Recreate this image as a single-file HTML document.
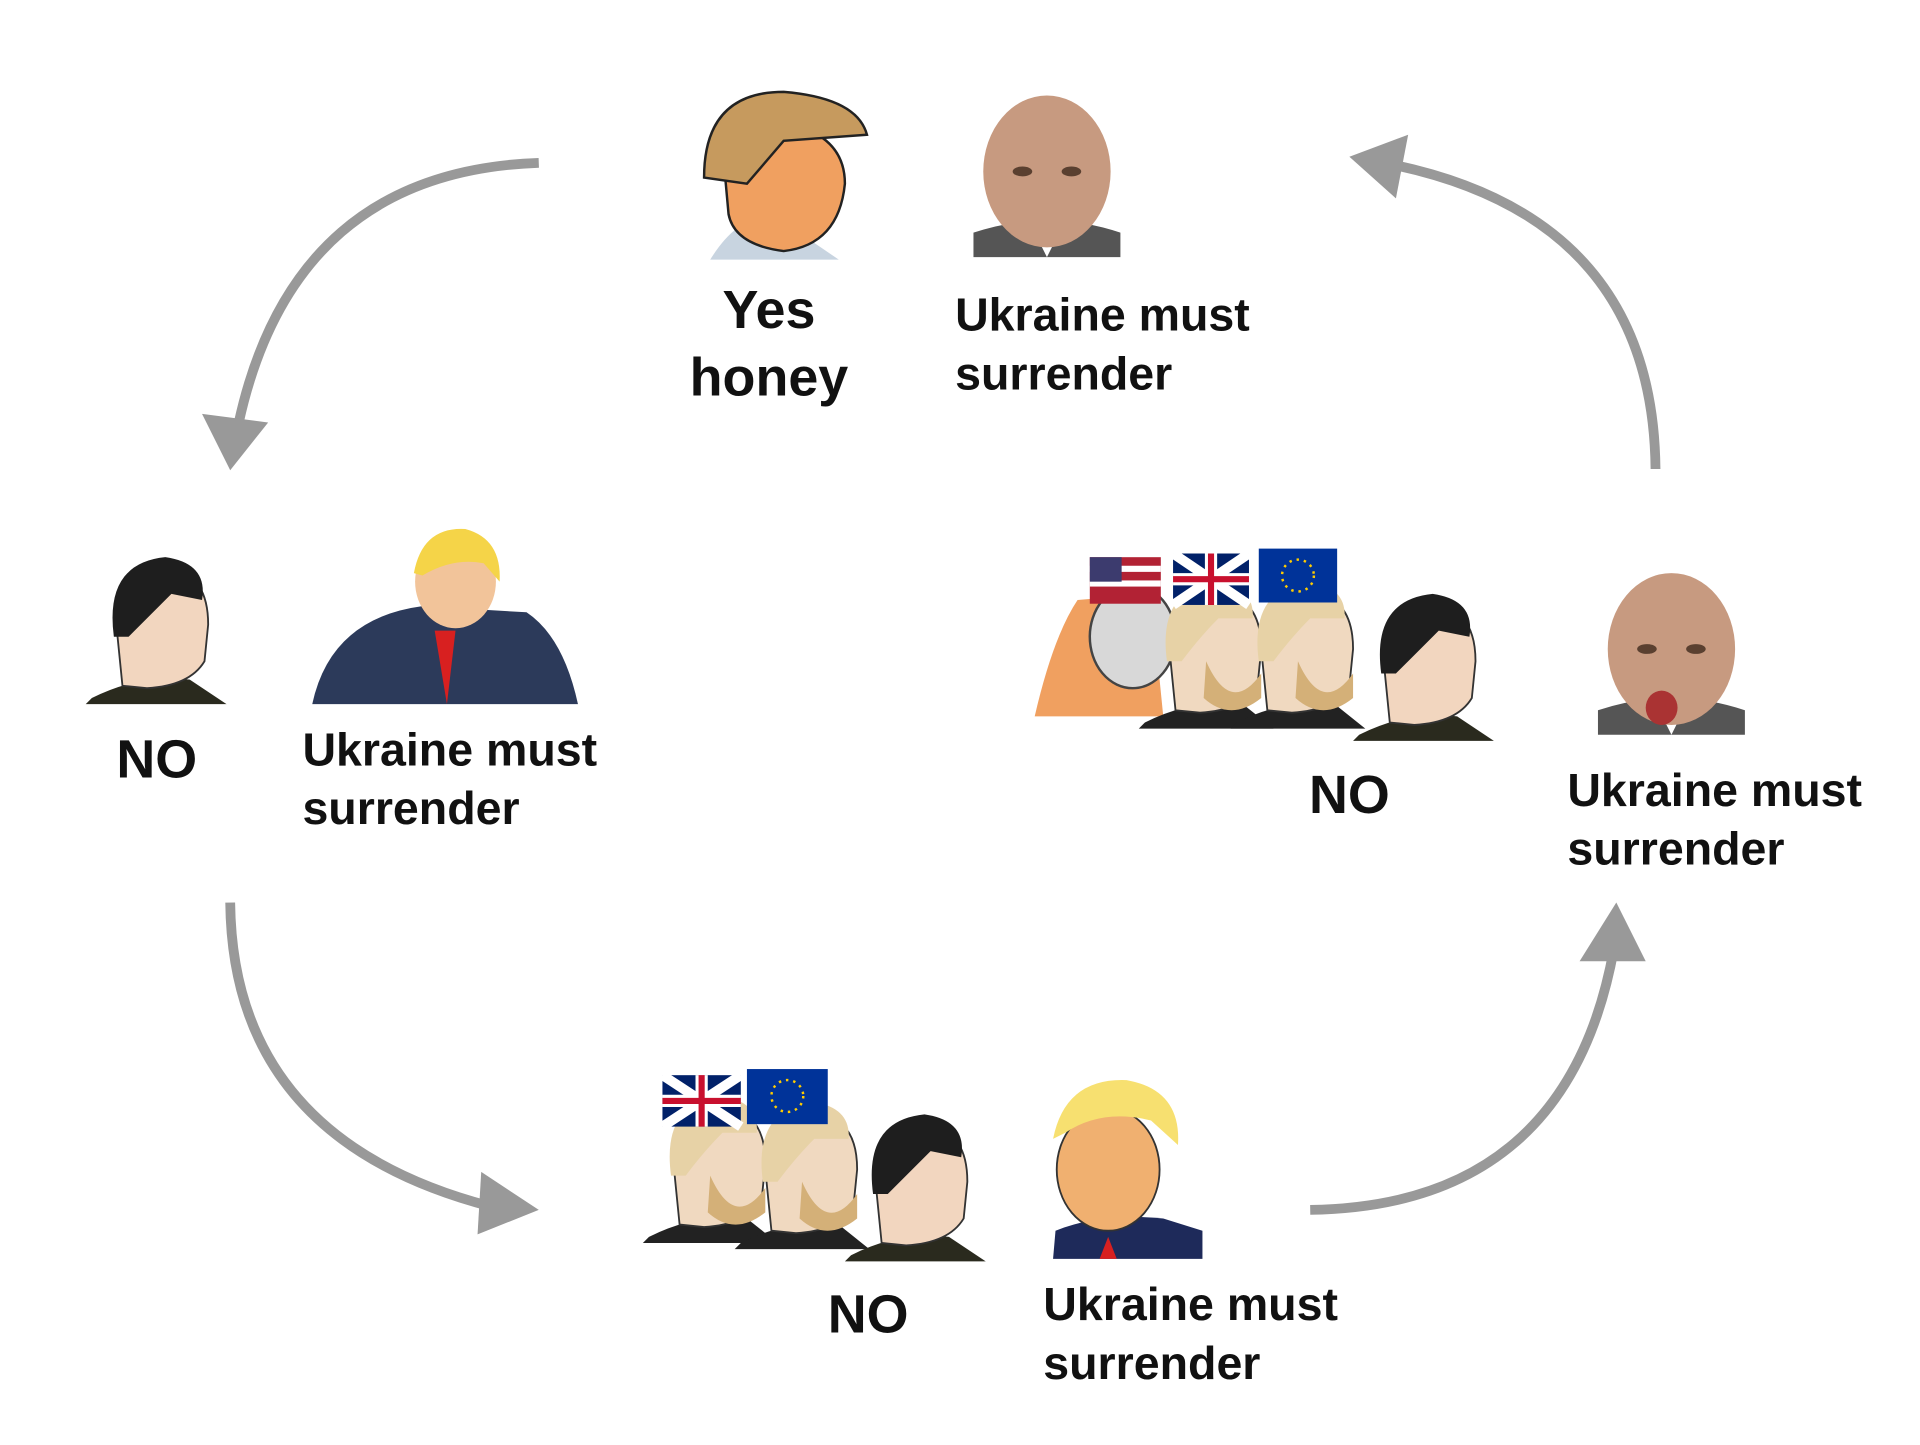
<!DOCTYPE html>
<html><head><meta charset="utf-8"><style>
html,body{margin:0;padding:0;background:#fff;width:1920px;height:1445px;overflow:hidden}
svg{display:block}
text{font-family:"Liberation Sans",sans-serif;font-weight:bold;fill:#111}
</style></head><body>
<svg width="1920" height="1445" viewBox="0 0 1568 1180" preserveAspectRatio="none">
<defs>
<g id="chad">
 <path d="M-50,60 Q-10,40 30,45 L60,65 L-55,65 Z" fill="#2a2a1e"/>
 <path d="M-25,50 L-30,0 Q-25,-45 15,-45 Q45,-40 45,0 L42,30 Q30,50 -5,52 Z" fill="#f2d6bf" stroke="#333" stroke-width="1.5"/>
 <path d="M-32,10 Q-40,-50 10,-55 Q45,-50 40,-20 L15,-25 Q0,-10 -20,10 Z" fill="#1e1e1e"/>
</g>
<g id="nordic">
 <path d="M-50,60 Q-10,40 30,45 L55,65 L-55,65 Z" fill="#222"/>
 <path d="M-25,50 L-30,0 Q-25,-45 15,-45 Q45,-40 45,0 L42,30 Q30,50 -5,52 Z" fill="#f0d9c0" stroke="#333" stroke-width="1.5"/>
 <path d="M-32,10 Q-40,-50 10,-55 Q40,-50 38,-25 L10,-25 Q-5,-10 -20,10 Z" fill="#e7d2a6"/>
 <path d="M0,10 Q20,55 45,20 L45,40 Q20,60 -2,40 Z" fill="#d4b078"/>
</g>
<g id="putin">
 <path d="M-60,70 L-60,50 Q0,30 60,50 L60,70 Z" fill="#555"/>
 <path d="M-10,50 L0,70 L10,50 Z" fill="#fff"/>
 <ellipse cx="0" cy="0" rx="52" ry="62" fill="#c79a80"/>
 <ellipse cx="-20" cy="0" rx="8" ry="4" fill="#5a4030"/><ellipse cx="20" cy="0" rx="8" ry="4" fill="#5a4030"/>
</g>
</defs>

<!-- arrows -->
<g fill="none" stroke="#999" stroke-width="8">
 <path d="M440,133 Q240,140 195,345"/>
 <path d="M188,737 Q190,930 400,985"/>
 <path d="M1070,988 Q1280,985 1318,775"/>
 <path d="M1352,383 Q1350,180 1140,135"/>
</g>
<g fill="#999">
 <polygon points="165,338 219,345 188,384"/>
 <polygon points="393,957 440,988 390,1008"/>
 <polygon points="1290,785 1344,785 1320,737"/>
 <polygon points="1150,110 1140,162 1102,128"/>
</g>

<!-- top: trump wojak -->
<path d="M580,212 Q600,180 620,180 L660,195 L685,212 Z" fill="#c8d4e0"/>
<path d="M590,120 Q600,95 640,100 Q690,110 690,150 Q685,200 640,205 Q600,200 595,175 Z" fill="#f0a060" stroke="#222" stroke-width="2"/>
<path d="M575,145 Q575,75 640,75 Q700,80 708,110 L640,115 L610,150 Z" fill="#c69a5e" stroke="#222" stroke-width="2"/>
<use href="#putin" x="855" y="140"/>
<text x="628" y="268" font-size="44" text-anchor="middle">Yes</text>
<text x="628" y="323" font-size="44" text-anchor="middle">honey</text>
<text x="780" y="270" font-size="38">Ukraine must</text>
<text x="780" y="318" font-size="38">surrender</text>

<!-- left -->
<use href="#chad" x="125" y="510"/>
<path d="M255,575 Q270,505 345,495 L430,500 Q460,520 472,575 Z" fill="#2c3a5a"/>
<path d="M355,515 L365,575 L372,515 Z" fill="#d82020"/>
<ellipse cx="372" cy="475" rx="33" ry="38" fill="#f2c49a"/>
<path d="M338,468 Q345,430 380,432 Q410,440 408,475 L395,460 Q370,455 345,470 Z" fill="#f5d448"/>
<text x="128" y="635" font-size="44" text-anchor="middle">NO</text>
<text x="247" y="625" font-size="38">Ukraine must</text>
<text x="247" y="673" font-size="38">surrender</text>

<!-- right -->
<path d="M845,585 Q860,520 880,490 L940,485 L950,585 Z" fill="#f0a060"/>
<ellipse cx="925" cy="520" rx="35" ry="42" fill="#d8d8d8" stroke="#444" stroke-width="2"/>
<rect x="890" y="455" width="58" height="38" fill="#b22234"/>
<rect x="890" y="462" width="58" height="5" fill="#fff"/><rect x="890" y="474" width="58" height="5" fill="#fff"/>
<rect x="890" y="455" width="26" height="20" fill="#3c3b6e"/>
<use href="#nordic" x="985" y="530"/>
<rect x="958" y="452" width="62" height="42" fill="#012169"/>
<path d="M958,452 L1020,494 M1020,452 L958,494" stroke="#fff" stroke-width="8"/>
<path d="M989,452 V494 M958,473 H1020" stroke="#fff" stroke-width="10"/>
<path d="M989,452 V494 M958,473 H1020" stroke="#c8102e" stroke-width="5"/>
<use href="#nordic" x="1060" y="530"/>
<rect x="1028" y="448" width="64" height="44" fill="#003399"/>
<circle cx="1060" cy="470" r="13" fill="none" stroke="#fc0" stroke-width="2" stroke-dasharray="2 4"/>
<use href="#chad" x="1160" y="540"/>
<use href="#putin" x="1365" y="530"/>
<ellipse cx="1357" cy="578" rx="13" ry="14" fill="#a33"/>
<text x="1102" y="664" font-size="44" text-anchor="middle">NO</text>
<text x="1280" y="658" font-size="38">Ukraine must</text>
<text x="1280" y="706" font-size="38">surrender</text>

<!-- bottom -->
<use href="#nordic" x="580" y="950"/>
<rect x="541" y="878" width="64" height="42" fill="#012169"/>
<path d="M541,878 L605,920 M605,878 L541,920" stroke="#fff" stroke-width="8"/>
<path d="M573,878 V920 M541,899 H605" stroke="#fff" stroke-width="10"/>
<path d="M573,878 V920 M541,899 H605" stroke="#c8102e" stroke-width="5"/>
<use href="#nordic" x="655" y="955"/>
<rect x="610" y="873" width="66" height="45" fill="#003399"/>
<circle cx="643" cy="895" r="13" fill="none" stroke="#fc0" stroke-width="2" stroke-dasharray="2 4"/>
<use href="#chad" x="745" y="965"/>
<path d="M860,1028 L862,1005 Q900,990 950,995 L982,1005 L982,1028 Z" fill="#1e2a5a"/>
<path d="M898,1028 L905,1010 L912,1028 Z" fill="#d82020"/>
<ellipse cx="905" cy="955" rx="42" ry="50" fill="#f0b070" stroke="#333" stroke-width="1.5"/>
<path d="M860,930 Q870,880 920,882 Q965,890 962,935 L940,915 Q900,905 870,925 Z" fill="#f7e070"/>
<text x="709" y="1088" font-size="44" text-anchor="middle">NO</text>
<text x="852" y="1078" font-size="38">Ukraine must</text>
<text x="852" y="1126" font-size="38">surrender</text>
</svg>
</body></html>
